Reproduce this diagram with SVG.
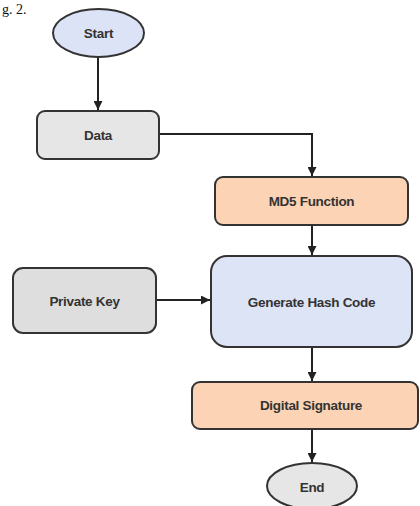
<svg xmlns="http://www.w3.org/2000/svg" width="420" height="506" viewBox="0 0 420 506">
<style>
.n{stroke:#333;stroke-width:2}
.t{font-family:"Liberation Sans",Arial,sans-serif;font-weight:bold;font-size:13.5px;fill:#333;text-anchor:middle;dominant-baseline:central;letter-spacing:-0.3px}
.c{fill:none;stroke:#222;stroke-width:2}
.cap{font-family:"Liberation Serif","Times New Roman",serif;font-size:14px;fill:#111}
</style>
<defs>
<marker id="ah" viewBox="0 0 10 10" refX="10" refY="5" markerWidth="4.5" markerHeight="4.5" orient="auto" markerUnits="strokeWidth">
<path d="M0,0 L10,5 L0,10 z" fill="#222"/>
</marker>
</defs>
<rect width="420" height="506" fill="#fff"/>
<text class="cap" x="2" y="14">g. 2.</text>
<g id="connectors">
<path class="c" d="M98,57 V110" marker-end="url(#ah)"/>
<path class="c" d="M159,134 H312 V176" marker-end="url(#ah)"/>
<path class="c" d="M312,225 V255" marker-end="url(#ah)"/>
<path class="c" d="M156,300 H210" marker-end="url(#ah)"/>
<path class="c" d="M312,347 V381" marker-end="url(#ah)"/>
<path class="c" d="M312,429 V462" marker-end="url(#ah)"/>
</g>
<g id="start">
<ellipse class="n" cx="98.5" cy="33" rx="45.5" ry="24" fill="#dde3f6"/>
<text class="t" x="98.5" y="33">Start</text>
</g>
<g id="data">
<rect class="n" x="37" y="111" width="122" height="48" rx="8" fill="#e6e6e6"/>
<text class="t" x="98" y="135">Data</text>
</g>
<g id="md5">
<rect class="n" x="215" y="177" width="193" height="48" rx="8" fill="#fcd3b4"/>
<text class="t" x="311.5" y="201">MD5 Function</text>
</g>
<g id="privatekey">
<rect class="n" x="13" y="268" width="143" height="65" rx="10" fill="#dedede"/>
<text class="t" x="84.5" y="301">Private Key</text>
</g>
<g id="generate">
<rect class="n" x="211" y="256" width="201" height="91" rx="16" fill="#dde4f5"/>
<text class="t" x="311.5" y="302">Generate Hash Code</text>
</g>
<g id="signature">
<rect class="n" x="192" y="382" width="226" height="47" rx="8" fill="#fcd3b4"/>
<text class="t" x="311" y="405">Digital Signature</text>
</g>
<g id="end">
<ellipse class="n" cx="312" cy="486" rx="45" ry="23" fill="#e6e6e6"/>
<text class="t" x="312" y="487">End</text>
</g>
</svg>
